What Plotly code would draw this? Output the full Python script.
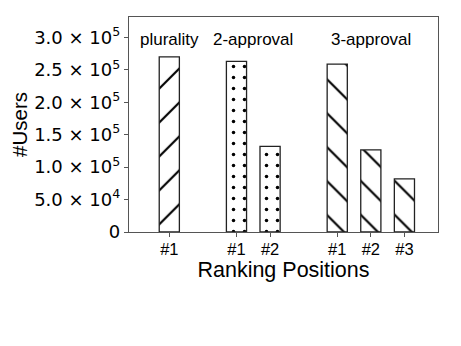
import plotly.graph_objects as go

# ---- data ----
group_names = ["plurality", "2-approval", "3-approval"]
rank_labels = ["#1", "#2", "#3"]
plurality_users = [270000]
approval2_users = [263000, 131800]
approval3_users = [258800, 126500, 81800]
y_tick_values = [0, 50000, 100000, 150000, 200000, 250000, 300000]
y_tick_labels = ["0", "5.0 × 10<sup>4</sup>", "1.0 × 10<sup>5</sup>", "1.5 × 10<sup>5</sup>",
                 "2.0 × 10<sup>5</sup>", "2.5 × 10<sup>5</sup>", "3.0 × 10<sup>5</sup>"]

series = [plurality_users, approval2_users, approval3_users]
patterns = ["/", ".", "\\"]
pattern_sizes = [24, 11, 24]
pattern_solid = [0.09, 0.08, 0.09]

fig = go.Figure()
tickvals, ticktext = [], []
start = 0
group_centers = []
for name, vals, pat, ps, sol in zip(group_names, series, patterns, pattern_sizes, pattern_solid):
    xs = [start + i for i in range(len(vals))]
    fig.add_trace(go.Bar(
        x=xs, y=vals, width=0.6, name=name,
        marker=dict(color="white", line=dict(color="#222", width=1.3),
                    pattern=dict(shape=pat, size=ps, solidity=sol, fgcolor="black", fgopacity=1,
                                 bgcolor="white", fillmode="replace")),
        showlegend=False,
    ))
    tickvals += xs
    ticktext += rank_labels[:len(vals)]
    group_centers.append(sum(xs) / len(xs))
    start += len(vals) + 1

for name, cx in zip(group_names, group_centers):
    fig.add_annotation(x=cx, y=297000, xref="x", yref="y", text=name, showarrow=False,
                       font=dict(family="Liberation Sans, Arial", size=17, color="black"),
                       yanchor="middle")

fig.update_layout(
    width=461, height=346,
    margin=dict(l=121, r=31, t=9, b=122, autoexpand=False),
    paper_bgcolor="white", plot_bgcolor="white",
    bargap=0.4,
)
fig.update_xaxes(
    automargin=False,
    range=[-1.2, 8.0], tickvals=tickvals, ticktext=ticktext,
    tickfont=dict(family="Liberation Sans, Arial", size=16.5, color="black"),
    ticks="outside", ticklen=4, tickcolor="#555", tickwidth=1, ticklabelstandoff=-2,
    showline=True, linecolor="#555", linewidth=1.3, mirror=True, showgrid=False, zeroline=False,
    title=dict(text="Ranking Positions", font=dict(family="Liberation Sans, Arial", size=21.5, color="black"),
               standoff=0),
)
fig.update_yaxes(
    automargin=False,
    range=[0, 331300], tickvals=y_tick_values, ticktext=y_tick_labels,
    tickfont=dict(family="DejaVu Sans", size=18, color="black"),
    ticks="outside", ticklen=4, tickcolor="#555", tickwidth=1,
    showline=True, linecolor="#555", linewidth=1.3, mirror=True, showgrid=False, zeroline=False,
    title=dict(text="#Users", font=dict(family="Liberation Sans, Arial", size=20.5, color="black"),
               standoff=12),
)
fig.write_html("out.html")
